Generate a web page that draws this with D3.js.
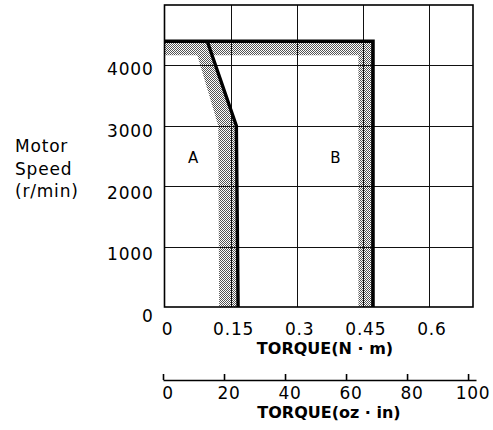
<!DOCTYPE html>
<html>
<head>
<meta charset="utf-8">
<script src="https://cdn.jsdelivr.net/npm/d3@7"></script>
<style>
  html, body { margin: 0; padding: 0; background: #fff; }
  svg { display: block; }
  text { font-family: "DejaVu Sans", sans-serif; fill: #000; }
</style>
</head>
<body>
<svg id="chart" width="493" height="430"></svg>
<script>
// Speed / torque operating zones of the servo motor
const speedTicks = [0, 1000, 2000, 3000, 4000];
const speedMax = 5000;
const torqueTicksNm = [0, 0.15, 0.3, 0.45, 0.6];
const torqueMaxNm = 0.7;
const torqueTicksOz = [0, 20, 40, 60, 80, 100];
const torqueMaxOz = 102.6;

// Zone A boundary (continuous duty) – torque [N·m] vs speed [r/min]
const zoneATorque = [0.097, 0.163, 0.167];
const zoneASpeed  = [4400, 3000, 0];
// Inner edge of the hatched tolerance band along zone A
const bandATorque = [0.065, 0.122, 0.124];
const bandASpeed  = [4400, 3000, 0];

// Zone B boundary (intermittent duty)
const zoneBTorque = [0, 0.473, 0.473];
const zoneBSpeed  = [4400, 4400, 0];
// Inner edge of the hatched tolerance band along zone B
const bandBTorque = [0, 0.44, 0.44];
const bandBSpeed  = [4170, 4170, 0];

const zoneLabels = ["A", "B"];
const zoneLabelTorque = [0.065, 0.388];
const zoneLabelSpeed = [2480, 2480];

const svg = d3.select("#chart");

const x = d3.scaleLinear().domain([0, torqueMaxNm]).range([164.5, 473]);
const y = d3.scaleLinear().domain([0, speedMax]).range([307, 5]);
const xOz = d3.scaleLinear().domain([0, torqueMaxOz]).range([163, 476]);
// tick labels sit slightly lower than their grid lines
const yLabel = d3.scaleLinear().domain([0, 4000]).range([y(0) + 9, y(4000) + 4]);

// stipple fill for the tolerance bands
const defs = svg.append("defs");
const pat = defs.append("pattern")
  .attr("id", "stipple")
  .attr("patternUnits", "userSpaceOnUse")
  .attr("width", 2).attr("height", 2);
pat.append("rect").attr("width", 2).attr("height", 2).attr("fill", "#fff");
pat.append("rect").attr("x", 0).attr("y", 0).attr("width", 1).attr("height", 1).attr("fill", "#555");
pat.append("rect").attr("x", 1).attr("y", 1).attr("width", 1).attr("height", 1).attr("fill", "#555");

const pts = (t, s) => t.map((v, i) => [x(v), y(s[i])]);
const line = d3.line();

// hatched bands: boundary followed by inner edge in reverse
function bandPolygon(outT, outS, inT, inS) {
  const outer = pts(outT, outS);
  const inner = pts(inT, inS).reverse();
  return line(outer.concat(inner)) + "Z";
}

svg.append("path")
  .attr("d", bandPolygon(zoneBTorque, zoneBSpeed, bandBTorque, bandBSpeed))
  .attr("fill", "url(#stipple)");
svg.append("path")
  .attr("d", bandPolygon(zoneATorque, zoneASpeed, bandATorque, bandASpeed))
  .attr("fill", "url(#stipple)");

// grid
const grid = svg.append("g").attr("stroke", "#111").attr("stroke-width", 1);
grid.selectAll("line.v")
  .data(torqueTicksNm.filter(d => d > 0))
  .join("line")
  .attr("x1", d => Math.round(x(d)) + 0.5).attr("x2", d => Math.round(x(d)) + 0.5)
  .attr("y1", y(0)).attr("y2", y(speedMax));
grid.selectAll("line.h")
  .data(speedTicks.filter(d => d > 0))
  .join("line")
  .attr("y1", d => Math.round(y(d)) + 0.5).attr("y2", d => Math.round(y(d)) + 0.5)
  .attr("x1", x(0)).attr("x2", x(torqueMaxNm));

// frame
svg.append("rect")
  .attr("x", x(0)).attr("y", y(speedMax))
  .attr("width", x(torqueMaxNm) - x(0)).attr("height", y(0) - y(speedMax))
  .attr("fill", "none").attr("stroke", "#000").attr("stroke-width", 1.6);

// zone boundaries
svg.append("path").attr("d", line(pts(zoneBTorque, zoneBSpeed)))
  .attr("fill", "none").attr("stroke", "#000").attr("stroke-width", 3.6)
  .attr("stroke-linejoin", "miter");
svg.append("path").attr("d", line(pts(zoneATorque, zoneASpeed)))
  .attr("fill", "none").attr("stroke", "#000").attr("stroke-width", 3.4)
  .attr("stroke-linejoin", "round");

// zone letters
svg.selectAll("text.zone")
  .data(zoneLabels)
  .join("text")
  .attr("class", "zone")
  .attr("x", (d, i) => x(zoneLabelTorque[i]))
  .attr("y", (d, i) => y(zoneLabelSpeed[i]) + 5.5)
  .attr("text-anchor", "middle")
  .attr("font-size", 15)
  .text(d => d);

// speed axis labels
svg.selectAll("text.ytick")
  .data(speedTicks)
  .join("text")
  .attr("class", "ytick")
  .attr("x", x(0) - 11)
  .attr("y", d => yLabel(d) + 6)
  .attr("text-anchor", "end")
  .attr("font-size", 17)
  .attr("letter-spacing", 0.8)
  .text(d => d);

const yTitle = svg.append("text").attr("font-size", 17).attr("letter-spacing", 0.8);
["Motor", "Speed", "(r/min)"].forEach((s, i) => {
  yTitle.append("tspan").attr("x", 15).attr("y", 152 + i * 22.5).text(s);
});

// N·m axis labels
svg.selectAll("text.xtick")
  .data(torqueTicksNm)
  .join("text")
  .attr("class", "xtick")
  .attr("x", d => x(d) + 3)
  .attr("y", 335)
  .attr("text-anchor", "middle")
  .attr("font-size", 17)
  .attr("letter-spacing", 0.8)
  .text(d => d);

svg.append("text")
  .attr("x", 325).attr("y", 353.5)
  .attr("text-anchor", "middle")
  .attr("font-size", 16).attr("font-weight", "bold")
  .text("TORQUE(N \u00b7 m)");

// oz·in axis
const ozAxis = d3.axisTop(xOz).tickValues(torqueTicksOz).tickSize(6).tickSizeOuter(0).tickFormat("");
const gOz = svg.append("g").attr("transform", "translate(0,380)").call(ozAxis);
gOz.select(".domain").attr("stroke", "#000").attr("stroke-width", 1.6);
gOz.selectAll(".tick line").attr("stroke", "#000").attr("stroke-width", 1.6);

svg.selectAll("text.oztick")
  .data(torqueTicksOz)
  .join("text")
  .attr("class", "oztick")
  .attr("x", d => xOz(d) + 5)
  .attr("y", 399)
  .attr("text-anchor", "middle")
  .attr("font-size", 17)
  .attr("letter-spacing", 0.8)
  .text(d => d);

svg.append("text")
  .attr("x", 329).attr("y", 418)
  .attr("text-anchor", "middle")
  .attr("font-size", 16).attr("font-weight", "bold")
  .text("TORQUE(oz \u00b7 in)");
</script>
</body>
</html>
